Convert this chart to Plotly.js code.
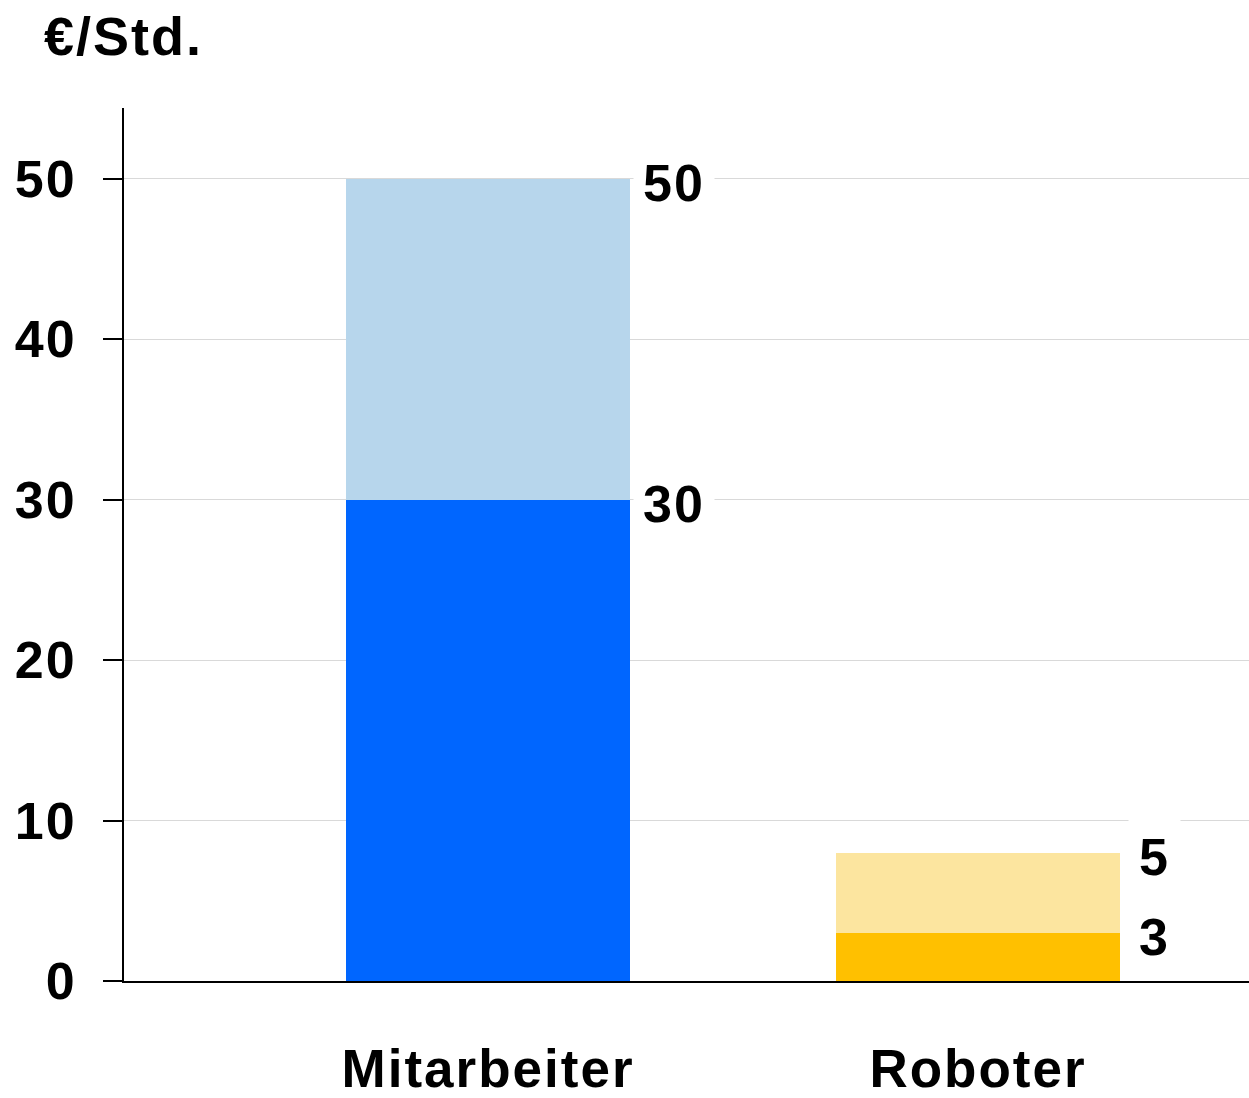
<!DOCTYPE html>
<html>
<head>
<meta charset="utf-8">
<script src="https://cdn.plot.ly/plotly-3.0.1.min.js"></script>
<style>
html,body{margin:0;padding:0;background:#fff;}
#chart{width:1249px;height:1098px;}
#chart text{letter-spacing:2px;}
</style>
</head>
<body>
<div id="chart"></div>
<script>
const categories = ["Mitarbeiter", "Roboter"];
const baseValues = [30, 3];
const topValues = [20, 5];
const baseLabels = ["30", "3"];
const topLabels = ["50", "5"];
const yTicks = [0, 10, 20, 30, 40, 50];
const unitTitle = "€/Std.";

const baseColors = ["#0066FF", "#FFC000"];
const topColors = ["#B7D6EC", "#FCE59F"];
const FONT = "Liberation Sans, Arial, sans-serif";

const traces = [
  {type: "bar", x: categories, y: baseValues, marker: {color: baseColors}, width: 0.58, hoverinfo: "skip"},
  {type: "bar", x: categories, y: topValues, marker: {color: topColors}, width: 0.58, hoverinfo: "skip"}
];

const annotations = [];
categories.forEach((c, i) => {
  const totals = [baseValues[i], baseValues[i] + topValues[i]];
  const labels = [baseLabels[i], topLabels[i]];
  totals.forEach((v, k) => {
    annotations.push({
      x: c, y: v, xref: "x", yref: "y", text: "<b>" + labels[k] + "</b>",
      showarrow: false, xanchor: "left", yanchor: "middle",
      xshift: i === 0 ? 145 : 150, yshift: -4,
      bgcolor: "#ffffff", borderpad: 11,
      font: {family: FONT, size: 52, color: "#000"}
    });
  });
});

const layout = {
  width: 1249, height: 1098,
  margin: {l: 124, r: 0, t: 108, b: 117},
  paper_bgcolor: "#fff", plot_bgcolor: "#fff",
  barmode: "stack",
  showlegend: false,
  title: {
    text: "<b>" + unitTitle + "</b>", xref: "container", yref: "container",
    x: 44 / 1249, xanchor: "left", y: 1 - 36 / 1098, yanchor: "middle",
    font: {family: FONT, size: 54, color: "#000"}
  },
  xaxis: {
    range: [-0.743, 1.553], showgrid: false, zeroline: false,
    showline: true, linecolor: "#000", linewidth: 2,
    ticks: "", ticklabelstandoff: 40,
    tickfont: {family: FONT, size: 53, color: "#000"},
    tickprefix: "<b>", ticksuffix: "</b>"
  },
  yaxis: {
    range: [0, 54.4], tickvals: yTicks, ticktext: yTicks.map(v => "<b>" + v + "</b>"),
    showgrid: true, gridcolor: "#d9d9d9", gridwidth: 1, zeroline: false,
    showline: true, linecolor: "#000", linewidth: 2,
    ticks: "outside", ticklen: 19, tickwidth: 2, tickcolor: "#000",
    ticklabelstandoff: 16,
    tickfont: {family: FONT, size: 52, color: "#000"}
  },
  annotations: annotations
};

Plotly.newPlot("chart", traces, layout, {staticPlot: true, displayModeBar: false});
</script>
</body>
</html>
